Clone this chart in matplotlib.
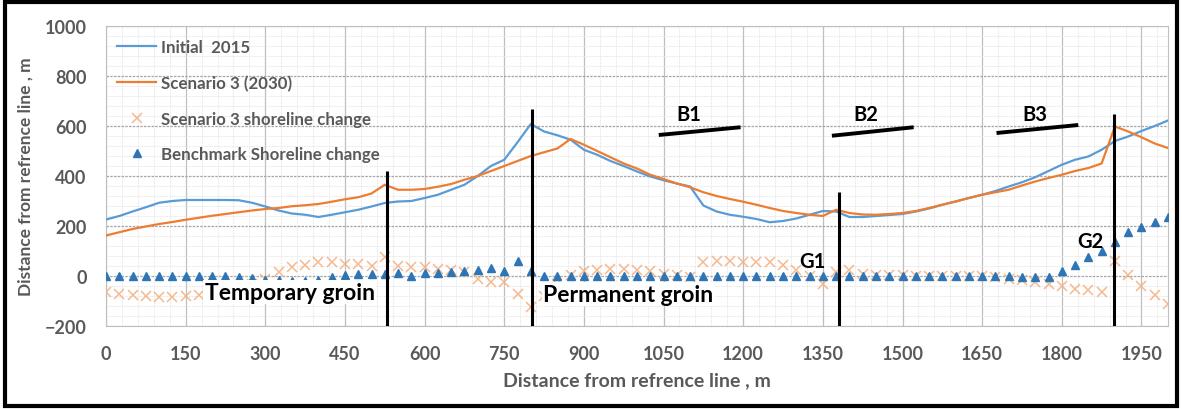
import numpy as np
import matplotlib.pyplot as plt
from matplotlib.patches import Rectangle
from matplotlib.ticker import MultipleLocator

# distance along the shore, every 25 m
dist = np.arange(0, 2001, 25)

initial_2015 = [226, 240, 258, 275, 293, 300, 304, 304, 304, 304,
                303, 293, 278, 262, 250, 245, 236, 245, 255, 265,
                278, 292, 298, 300, 312, 325, 345, 365, 400, 440,
                465, 535, 608, 578, 563, 545, 505, 485, 460, 440,
                418, 398, 383, 370, 358, 282, 258, 245, 237, 228,
                215, 220, 230, 245, 260, 258, 236, 236, 240, 244,
                248, 258, 270, 285, 298, 312, 325, 340, 358, 375,
                395, 420, 445, 465, 478, 505, 540, 558, 580, 600,
                622]

scenario3_2030 = [162, 175, 188, 198, 208, 216, 225, 233, 241, 248,
                  255, 262, 268, 272, 279, 283, 288, 297, 307, 315,
                  330, 365, 345, 345, 348, 357, 368, 385, 400, 420,
                  440, 460, 480, 495, 510, 548, 525, 500, 475, 450,
                  430, 405, 388, 370, 355, 335, 320, 308, 297, 285,
                  272, 260, 252, 245, 240, 265, 252, 246, 245, 248,
                  252, 260, 272, 285, 298, 312, 325, 335, 345, 362,
                  378, 392, 405, 420, 432, 450, 598, 578, 555, 530,
                  512]

scenario3_change = [-65, -70, -75, -80, -85, -82, -80, -75, -65, -55,
                    -48, -30, -10, 15, 35, 45, 55, 55, 50, 48,
                    42, 75, 42, 35, 35, 30, 25, 18, -10, -25,
                    -25, -72, -125, -80, -30, 5, 20, 25, 28, 30,
                    25, 20, 8, 3, -2, 58, 62, 62, 58, 55,
                    58, 45, 25, 2, -30, 15, 25, 8, 5, 4,
                    4, 2, 2, 0, 0, 0, 0, -5, -12, -15,
                    -22, -30, -40, -50, -55, -65, 60, 5, -40, -75,
                    -110]

benchmark_change = [0, 0, 0, 0, 0, 0, 0, 0, 0, 0,
                    -3, -8, -15, -15, -18, -18, -15, -5, 5, 8,
                    10, 10, 12, 0, 12, 14, 15, 20, 25, 32,
                    20, 62, 20, 0, 0, 0, 0, 0, 0, 0,
                    0, 0, 0, 0, 0, 0, 0, 0, 0, 0,
                    0, 0, 0, 0, 0, 0, 0, 0, 0, 0,
                    0, 0, 0, 0, 0, 0, 0, 0, 0, -2,
                    -3, -3, 20, 45, 75, 100, 138, 175, 197, 217,
                    238]

# groins: position and top of the drawn line
groin_x = [530, 803, 1380, 1898]
groin_top = [420, 668, 336, 648]

# breakwaters: end points and label positions
bw_names = ['B1', 'B2', 'B3']
bw_x0 = [1041, 1367, 1677]
bw_x1 = [1195, 1521, 1831]
bw_y0 = [564, 561, 572]
bw_y1 = [595, 595, 604]
bw_label_x = [1098, 1430, 1750]

grey = '#595959'
plt.rcParams['font.family'] = ['Lato', 'DejaVu Sans']

fig = plt.figure(figsize=(11.82, 4.10), dpi=100)
ax = fig.add_axes([106 / 1182, 1 - 327 / 410, 1062 / 1182, 300 / 410])

ax.plot(dist, initial_2015, color='#5B9BD5', lw=1.6, label='Initial  2015', zorder=3)
ax.plot(dist, scenario3_2030, color='#ED7D31', lw=1.6, label='Scenario 3 (2030)', zorder=3)
ax.plot(dist, scenario3_change, ls='none', marker='x', ms=7, mew=1.1,
        color='#F4B183', alpha=0.9, label='Scenario 3 shoreline change', zorder=3)
ax.plot(dist, benchmark_change, ls='none', marker='^', ms=6,
        color='#2E75B6', label='Benchmark Shoreline change', zorder=4)

# groin lines
ax.vlines(groin_x, -200, groin_top, color='black', lw=2.2, zorder=6)

# breakwater lines
for name, a, b, c, d, lx in zip(bw_names, bw_x0, bw_x1, bw_y0, bw_y1, bw_label_x):
    ax.plot([a, b], [c, d], color='black', lw=2.8, solid_capstyle='butt', zorder=6)
    ax.text(lx, 648, name, fontsize=14.5, fontweight='bold',
            ha='center', va='center', zorder=7)

txt_box = dict(facecolor='white', edgecolor='none', pad=1)
ax.text(186, -65, 'Temporary groin', fontsize=16.5, fontweight='bold',
        ha='left', va='center', bbox=txt_box, zorder=5)
ax.text(823, -72, 'Permanent groin', fontsize=16.5, fontweight='bold',
        ha='left', va='center', bbox=txt_box, zorder=5)
ax.text(1331, 60, 'G1', fontsize=14.5, fontweight='bold', ha='center', va='center', zorder=7)
ax.text(1853, 140, 'G2', fontsize=14.5, fontweight='bold', ha='center', va='center', zorder=7)

ax.set_xlim(0, 2000)
ax.set_ylim(-200, 1000)
ax.xaxis.set_major_locator(MultipleLocator(150))
ax.xaxis.set_minor_locator(MultipleLocator(30))
ax.yaxis.set_major_locator(MultipleLocator(200))
ax.yaxis.set_minor_locator(MultipleLocator(40))

ax.grid(which='minor', color='#e6e6e6', lw=0.6, ls=(0, (2, 1)))
ax.grid(which='major', axis='x', color='#bfbfbf', lw=0.9, ls='-')
ax.grid(which='major', axis='y', color='#a6a6a6', lw=0.9, ls=(0, (2, 1)))
ax.set_axisbelow(True)

ax.tick_params(which='both', length=0, labelsize=13, labelcolor=grey, pad=14)
for lab in ax.get_xticklabels() + ax.get_yticklabels():
    lab.set_fontweight('bold')
for sp in ax.spines.values():
    sp.set_color('#bfbfbf')
    sp.set_linewidth(0.8)

ax.set_xlabel('Distance from refrence line , m', fontsize=14, fontweight='bold',
              color=grey, labelpad=6)
ax.set_ylabel('Distance from refrence line , m', fontsize=12.5, fontweight='bold',
              color=grey, labelpad=8)

leg = ax.legend(loc='upper left', bbox_to_anchor=(0.004, 0.978), frameon=False,
                fontsize=12.2, handlelength=2.3, labelspacing=1.15, borderaxespad=0,
                borderpad=0.4, handletextpad=0.3)
for t in leg.get_texts():
    t.set_color(grey)
    t.set_fontweight('bold')

# black frame round the whole picture
fig.patches.append(Rectangle((0.004, 0.008), 0.992, 0.984, transform=fig.transFigure,
                             fill=False, edgecolor='black', lw=3))

fig.savefig('out.png', dpi=100)
